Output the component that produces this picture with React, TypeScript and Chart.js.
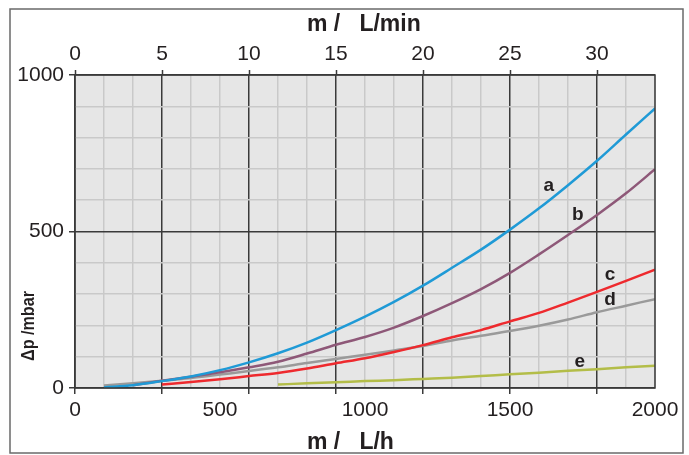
import React, { useEffect, useRef } from "react";
import { Chart, registerables } from "chart.js";

Chart.register(...registerables);

// Flow in L/h
const flowLh = [100, 200, 300, 400, 500, 600, 700, 800, 900, 1000, 1100, 1200, 1300, 1400, 1500, 1600, 1700, 1800, 1900, 2000];
// Pressure drop in mbar
const curveA = [2, 9, 22, 37, 57, 82, 111, 145, 185, 228, 275, 327, 384, 442, 506, 574, 648, 726, 810, 893];
const curveB = [null, 9, 23, 36, 50, 66, 84, 110, 138, 163, 193, 230, 271, 316, 368, 427, 489, 553, 622, 699];
const curveC = [null, null, 11, 19, 28, 38, 48, 62, 79, 95, 115, 137, 162, 185, 213, 240, 273, 307, 342, 378];
const curveD = [8, 15, 23, 32, 43, 54, 66, 80, 93, 106, 120, 134, 152, 167, 182, 199, 219, 242, 263, 284];
const curveE = [null, null, null, null, null, null, 11, 15, 18, 22, 25, 29, 33, 38, 44, 49, 55, 60, 66, 71];

const seriesNames = ["a", "b", "c", "d", "e"];
const seriesColors = ["#1f9ad6", "#8e5878", "#ee2a2e", "#9a9a9a", "#b3bd48"];
// label anchor positions (L/h, mbar)
const labelFlow = [1634, 1734, 1845, 1845, 1741];
const labelDp = [645, 553, 361, 281, 83];

const xMaxLh = 2000;
const yMax = 1000;

const AXIS = "#3a3a3a";
const MINOR = "#c9c9c9";
const TEXT = "#231f20";
const FONT = "'Liberation Sans', Arial, sans-serif";

export default function App() {
  const ref = useRef<HTMLCanvasElement>(null);

  useEffect(() => {
    const canvas = ref.current;
    if (!canvas) return;
    const series = [curveA, curveB, curveC, curveD, curveE];

    const deco = {
      id: "deco",
      beforeDraw(chart: any) {
        const { ctx, chartArea: a } = chart;
        ctx.save();
        ctx.fillStyle = "#ffffff";
        ctx.fillRect(0, 0, chart.width, chart.height);
        ctx.fillStyle = "#e6e6e6";
        ctx.fillRect(a.left, a.top, a.right - a.left, a.bottom - a.top);
        ctx.restore();
      },
      afterDraw(chart: any) {
        const { ctx, chartArea: a } = chart;
        ctx.save();
        // plot frame
        ctx.strokeStyle = AXIS;
        ctx.lineWidth = 1.5;
        ctx.strokeRect(a.left, a.top, a.right - a.left, a.bottom - a.top);
        // outer frame
        ctx.strokeStyle = "#6a6a6a";
        ctx.lineWidth = 1.5;
        ctx.strokeRect(10, 9, 673, 444);
        // titles
        ctx.fillStyle = TEXT;
        ctx.font = `bold 23px ${FONT}`;
        ctx.textAlign = "left";
        ctx.textBaseline = "alphabetic";
        ctx.fillText("m /   L/min", 307, 31);
        ctx.fillText("m /   L/h", 307, 449);
        ctx.save();
        ctx.translate(29, 326);
        ctx.rotate(-Math.PI / 2);
        ctx.scale(0.85, 1);
        ctx.textAlign = "center";
        ctx.textBaseline = "middle";
        ctx.font = `bold 19px ${FONT}`;
        ctx.fillText("\u0394p /mbar", 0, 0);
        ctx.restore();
        // curve labels
        ctx.font = `bold 19px ${FONT}`;
        ctx.textAlign = "center";
        ctx.textBaseline = "middle";
        const xs = chart.scales.x;
        const ys = chart.scales.y;
        seriesNames.forEach((n, i) => {
          ctx.fillText(n, xs.getPixelForValue(labelFlow[i]), ys.getPixelForValue(labelDp[i]));
        });
        ctx.restore();
      },
    };

    const chart = new Chart(canvas, {
      type: "line",
      data: {
        labels: flowLh,
        datasets: series.map((s, i) => ({
          label: seriesNames[i],
          data: flowLh.map((f, j) => ({ x: f, y: s[j] as any })),
          borderColor: seriesColors[i],
          borderWidth: 2.5,
          pointRadius: 0,
          fill: false,
          cubicInterpolationMode: "monotone" as const,
          spanGaps: false,
        })),
      },
      options: {
        animation: false,
        responsive: true,
        maintainAspectRatio: false,
        layout: { padding: { left: 0, right: 34, top: 0, bottom: 0 } },
        plugins: { legend: { display: false }, tooltip: { enabled: false } },
        scales: {
          x: {
            type: "linear",
            position: "bottom",
            min: 0,
            max: xMaxLh,
            afterFit: (s: any) => {
              s.height = 67;
            },
            border: { display: false },
            grid: {
              color: (c: any) => (c.tick && c.tick.value % 300 === 0 ? AXIS : MINOR),
              lineWidth: 1.5,
              tickLength: 6,
              tickWidth: 1.5,
              tickColor: (c: any) => (c.tick && c.tick.value % 300 === 0 ? AXIS : "rgba(0,0,0,0)"),
            },
            ticks: {
              stepSize: 100,
              autoSkip: false,
              maxRotation: 0,
              includeBounds: false,
              padding: 4,
              color: TEXT,
              font: { family: FONT, size: 21 },
              callback: (v: any) => (Number(v) % 500 === 0 ? String(v) : ""),
            },
          },
          x2: {
            type: "linear",
            axis: "x",
            position: "top",
            min: 0,
            max: xMaxLh / 60,
            afterFit: (s: any) => {
              s.height = 75;
            },
            border: { display: false },
            grid: {
              drawOnChartArea: false,
              drawTicks: true,
              tickLength: 5,
              tickWidth: 1.5,
              color: AXIS,
              tickColor: AXIS,
            },
            ticks: {
              stepSize: 5,
              includeBounds: false,
              autoSkip: false,
              maxRotation: 0,
              padding: 3,
              color: TEXT,
              font: { family: FONT, size: 21 },
            },
          },
          y: {
            type: "linear",
            position: "left",
            min: 0,
            max: yMax,
            afterFit: (s: any) => {
              s.width = 75;
            },
            border: { display: false },
            grid: {
              color: (c: any) => (c.tick && c.tick.value % 500 === 0 ? AXIS : MINOR),
              lineWidth: 1.5,
              tickLength: 6,
              tickWidth: 1.5,
              tickColor: (c: any) => (c.tick && c.tick.value % 500 === 0 ? AXIS : "rgba(0,0,0,0)"),
            },
            ticks: {
              stepSize: 100,
              autoSkip: false,
              padding: 5,
              color: TEXT,
              font: { family: FONT, size: 21 },
              callback: (v: any) => (Number(v) % 500 === 0 ? String(v) : ""),
            },
          },
        },
      },
      plugins: [deco],
    } as any);

    return () => chart.destroy();
  }, []);

  return (
    <div style={{ position: "absolute", left: 0, top: 0, width: 689, height: 455 }}>
      <canvas ref={ref} />
    </div>
  );
}
